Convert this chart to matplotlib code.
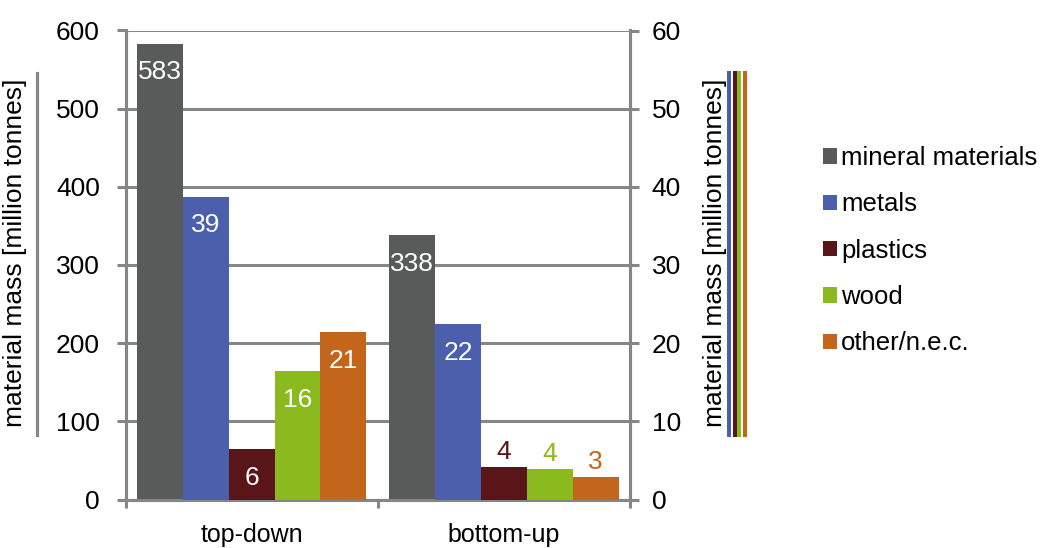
import numpy as np
import matplotlib.pyplot as plt
from matplotlib.patches import Patch
from matplotlib.lines import Line2D

plt.rcParams['font.family'] = ['Liberation Sans', 'DejaVu Sans']

# ------------------------------------
#          - Data -
# ------------------------------------
approaches = ["top-down", "bottom-up"]
materials = ["mineral materials", "metals", "plastics", "wood", "other/n.e.c."]
colors = ["#595B5A", "#4C5FAD", "#5A1518", "#8BBA1F", "#C3651A"]

# mineral materials on the left scale, the rest on the right scale
mineral = [583, 338]
metals = [38.7, 22.4]
plastics = [6.4, 4.1]
wood = [16.4, 3.9]
other = [21.4, 2.9]

series = [mineral, metals, plastics, wood, other]

grey = "#868686"
fs = 19
W, H = 1040, 548

fig = plt.figure(figsize=(W / 100, H / 100), dpi=100)
ax = fig.add_axes([125.5 / W, 1 - 499.5 / H, (630 - 125.5) / W, (499.5 - 30.5) / H])
ax2 = ax.twinx()

x = np.arange(len(approaches))
width = 0.182

for i, (vals, c) in enumerate(zip(series, colors)):
    target = ax if i == 0 else ax2
    pos = x + (i - 2) * width
    bars = target.bar(pos, vals, width, color=c, zorder=3)
    for b, v in zip(bars, vals):
        cx = b.get_x() + b.get_width() / 2
        if v >= (50 if i == 0 else 5):
            target.annotate("%d" % round(v), (cx, v), xytext=(0, -20.5),
                            textcoords="offset points", ha="center", va="center",
                            color="white", fontsize=fs, zorder=4)
        else:
            target.annotate("%d" % round(v), (cx, v), xytext=(0, 11),
                            textcoords="offset points", ha="center", va="center",
                            color=c, fontsize=fs, zorder=4)

ax.set_xlim(-0.5, 1.5)
ax.set_ylim(0, 600)
ax2.set_ylim(0, 60)
ax.set_yticks(np.arange(0, 601, 100))
ax2.set_yticks(np.arange(0, 61, 10))

ax.yaxis.grid(True, color=grey, linewidth=2.2, zorder=0)
ax.set_axisbelow(True)

for a in (ax, ax2):
    for s in a.spines.values():
        s.set_color(grey)
        s.set_linewidth(2.2)
    a.spines["top"].set_visible(False)

ax.tick_params(axis="y", length=6.5, width=2.2, color=grey, labelsize=fs, pad=12)
ax2.tick_params(axis="y", length=6.5, width=2.2, color=grey, labelsize=fs, pad=9)

ax.set_xticks(x)
ax.set_xticklabels(approaches)
ax.set_xticks([-0.5, 0.5, 1.5], minor=True)
ax.tick_params(axis="x", which="major", length=0, labelsize=18, pad=17)
ax.tick_params(axis="x", which="minor", length=6, width=2.2, color=grey)

# axis titles with their marker lines
ylab = "material mass [million tonnes]"
fig.text(15 / W, 1 - 253 / H, ylab, rotation=90, ha="center", va="center", fontsize=fs)
fig.text(715 / W, 1 - 253 / H, ylab, rotation=90, ha="center", va="center", fontsize=fs)

y0, y1 = 1 - 435 / H, 1 - 73 / H
fig.add_artist(Line2D([36.5 / W] * 2, [y0, y1], color=grey, lw=2.3))
for xp, c in zip([728.7, 734.7, 739.2, 744.7], colors[1:]):
    fig.add_artist(Line2D([xp / W] * 2, [y0, y1], color=c, lw=2.9))

handles = [Patch(facecolor=c, edgecolor="none") for c in colors]
fig.legend(handles, materials, loc="upper left", bbox_to_anchor=(823 / W, 1 - 146 / H),
           frameon=False, fontsize=18.5, handlelength=0.55, handleheight=0.55,
           handletextpad=0.15, labelspacing=0.87, borderpad=0, borderaxespad=0)

fig.savefig("out.png", dpi=100)
